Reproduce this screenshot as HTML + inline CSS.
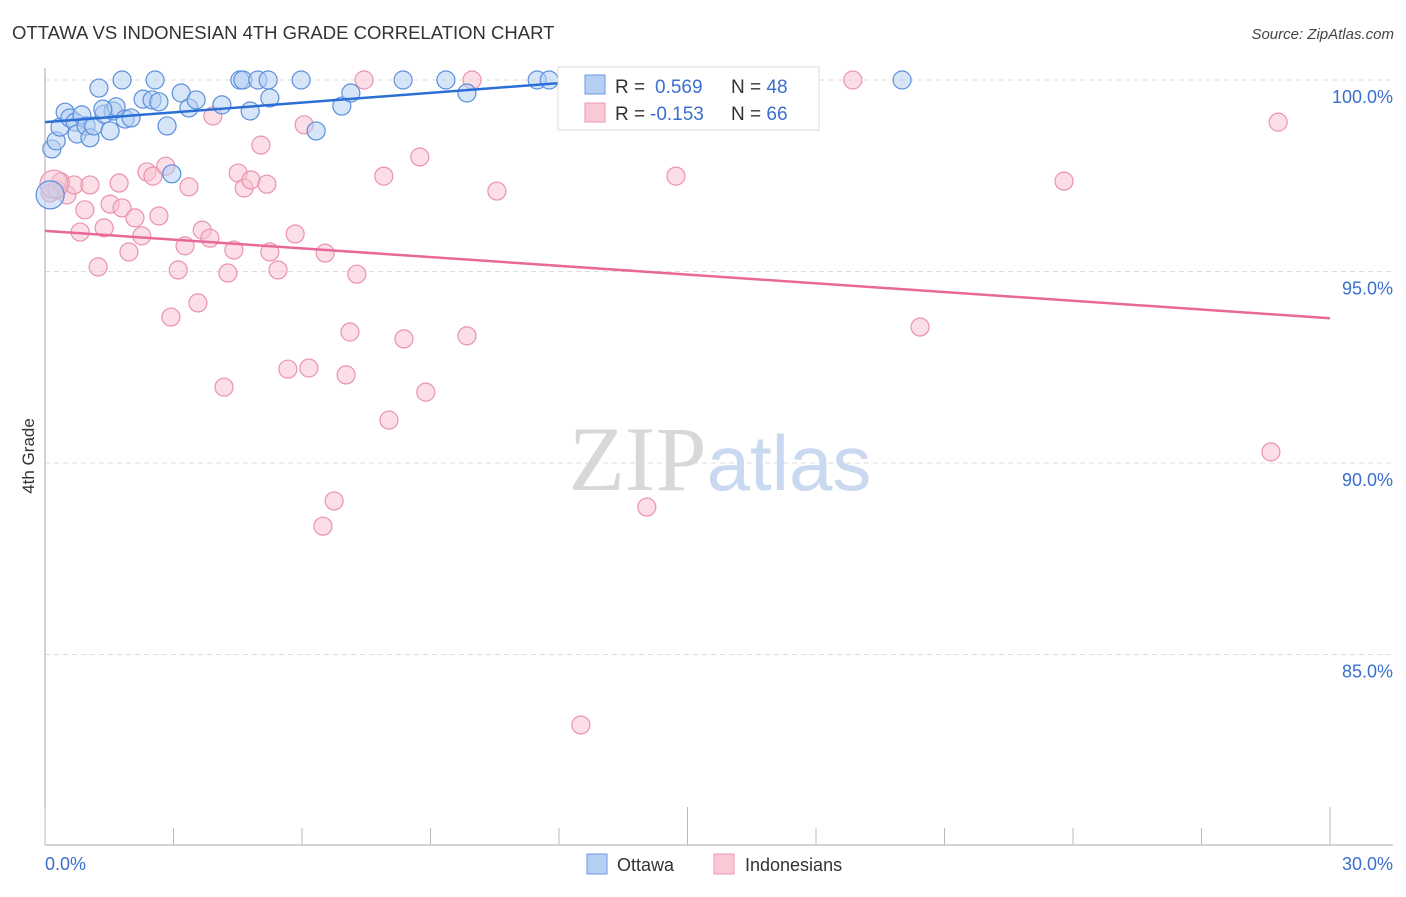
<!DOCTYPE html>
<html><head><meta charset="utf-8"><style>
body{margin:0;background:#fff;font-family:"Liberation Sans",sans-serif;}
svg text{font-family:"Liberation Sans",sans-serif;}
</style></head><body>
<svg id="chart" width="1406" height="892" viewBox="0 0 1406 892" xmlns="http://www.w3.org/2000/svg">
<text x="12" y="39" font-size="18.5" fill="#333">OTTAWA VS INDONESIAN 4TH GRADE CORRELATION CHART</text>
<text x="1394" y="39" font-size="15" font-style="italic" fill="#444" text-anchor="end">Source: ZipAtlas.com</text>
<g id="grid"></g>
<text x="720" y="490" font-size="92" text-anchor="middle" fill="#ddd" font-family="Liberation Serif"><tspan fill="#d8d8d8" font-family="Liberation Serif">ZIP</tspan><tspan fill="#c9d9f0" font-family="Liberation Sans" font-size="78">atlas</tspan></text>
<g id="axes"></g>
<g id="pts"></g>
<g id="lines"></g>
<text transform="translate(34,456) rotate(-90)" font-size="17" fill="#333" text-anchor="middle">4th Grade</text>
<g>
<rect x="558" y="67" width="261" height="63" fill="#fff" stroke="#ddd"/>
<rect x="585" y="75" width="20" height="19" fill="#b5cff3" stroke="#6a9ae0"/>
<rect x="585" y="103" width="20" height="19" fill="#fbc8d6" stroke="#ee9ab2"/>
<text x="615" y="93" font-size="19" fill="#333">R = <tspan fill="#3a6fd0" x="655">0.569</tspan><tspan fill="#333" x="731">N = </tspan><tspan fill="#3a6fd0">48</tspan></text>
<text x="615" y="120" font-size="19" fill="#333">R = <tspan fill="#3a6fd0" x="650">-0.153</tspan><tspan fill="#333" x="731">N = </tspan><tspan fill="#3a6fd0">66</tspan></text>
</g>
<g>
<rect x="587" y="854" width="20" height="20" fill="#b5cff3" stroke="#6a9ae0"/>
<text x="617" y="871" font-size="18" fill="#333">Ottawa</text>
<rect x="714" y="854" width="20" height="20" fill="#fbc8d6" stroke="#ee9ab2"/>
<text x="745" y="871" font-size="18" fill="#333">Indonesians</text>
</g>
</svg>
<script>
const yTicks=[100,95,90,85];
const yTickLabels=["100.0%","95.0%","90.0%","85.0%"];
const xTickLabels=["0.0%","30.0%"];
const ottawaX=[0.16,0.26,0.35,0.47,0.58,0.70,0.75,0.86,0.96,1.05,1.14,1.26,1.38,1.52,1.59,1.66,1.80,1.87,2.01,2.29,2.50,2.57,2.66,2.85,2.96,3.18,3.36,3.53,4.13,4.55,4.62,4.79,4.97,5.21,5.25,5.98,6.33,6.93,7.14,8.36,9.36,9.85,11.49,11.77,12.89,20.01,0.12,1.35];
const ottawaY=[98.20,98.41,98.77,99.16,99.01,98.90,98.59,99.09,98.80,98.49,98.80,99.79,99.11,98.67,99.19,99.30,100,98.98,99.01,99.50,99.48,100,99.43,98.80,97.55,99.66,99.27,99.48,99.35,100,100,99.19,100,100,99.53,100,98.67,99.32,99.66,100,100,99.66,100,100,100,100,97.0,99.24];
const indoX=[0.12,0.28,0.37,0.51,0.68,0.82,0.93,1.05,1.24,1.38,1.52,1.73,1.80,1.96,2.10,2.26,2.38,2.52,2.66,2.82,2.94,3.11,3.27,3.36,3.57,3.67,3.85,3.92,4.18,4.27,4.41,4.51,4.65,4.81,5.04,5.18,5.25,5.44,5.67,5.84,6.05,6.16,6.49,6.54,6.75,7.03,7.12,7.28,7.45,7.91,8.03,8.38,8.75,8.89,9.85,9.97,10.55,12.51,14.05,14.73,18.86,20.43,23.79,28.62,28.79,0.21];
const indoY=[97.05,97.13,97.34,97.00,97.26,96.03,96.61,97.26,95.12,96.14,96.76,97.31,96.66,95.51,96.40,95.93,97.60,97.49,96.45,97.75,93.81,95.04,95.67,97.21,94.18,96.08,95.87,99.06,91.98,94.96,95.56,97.57,97.18,97.39,98.30,97.28,95.51,95.04,92.45,95.98,98.83,92.48,88.35,95.48,89.01,92.30,93.42,94.93,100,97.49,91.12,93.24,97.99,91.85,93.32,100,97.10,83.16,88.85,97.49,100,93.55,97.36,90.29,98.90,97.28];
const ottawaTrendX=[0,12.96];
const ottawaTrendY=[98.90,100.0];
const indoTrendX=[0,30];
const indoTrendY=[96.06,93.78];

const NS="http://www.w3.org/2000/svg";
const X0=45,X1=1330,Y100=80,PXPER=38.3;
const sx=v=>X0+(v/30)*(X1-X0);
const sy=v=>Y100+(100-v)*PXPER;
function mk(tag,attrs,parent){const e=document.createElementNS(NS,tag);for(const k in attrs)e.setAttribute(k,attrs[k]);parent.appendChild(e);return e;}
const grid=document.getElementById('grid'),axes=document.getElementById('axes'),pts=document.getElementById('pts'),lines=document.getElementById('lines');
yTicks.forEach((t,i)=>{
  const l=mk('line',{x1:X0,x2:1393,y1:sy(t),y2:sy(t),stroke:'#ddd','stroke-dasharray':'5,4'},grid);
  
  
  const tx=mk('text',{x:1393,y:sy(t)+23,'font-size':18,fill:'#3a6fd0','text-anchor':'end'},axes);
  tx.textContent=yTickLabels[i];
  
  
});
const al=mk('line',{x1:X0,x2:X0,y1:68,y2:845,stroke:'#aaa'},axes);


const bl=mk('line',{x1:X0,x2:1393,y1:845,y2:845,stroke:'#aaa'},axes);


for(let i=0;i<=10;i++){
  const v=i*3;
  const tk=mk('line',{x1:sx(v),x2:sx(v),y1:(i%5===0)?807:828,y2:845,stroke:'#bbb'},axes);
  
  
}
[[0,'start'],[30,'end']].forEach((p,i)=>{
  const tx=mk('text',{x:i?1393:45,y:870,'font-size':18,fill:'#3a6fd0','text-anchor':p[1]},axes);
  tx.textContent=xTickLabels[i];
  
  
});
function drawPts(xs,ys,fill,stroke,name){
  xs.forEach((x,i)=>{
    const big=(i===xs.length-1&&name==='indonesians-point')||(name==='ottawa-point'&&i===46);
    const c=mk('circle',{cx:sx(x),cy:sy(ys[i]),r:big?14:9,fill:fill,'fill-opacity':0.55,stroke:stroke,'stroke-width':1.2},pts);
    
    
  });
}
drawPts(indoX,indoY,'#f8c3d2','#eb92ad','indonesians-point');
drawPts(ottawaX,ottawaY,'#b5cff3','#5a8fdc','ottawa-point');
const t1=mk('line',{x1:sx(ottawaTrendX[0]),y1:sy(ottawaTrendY[0]),x2:sx(ottawaTrendX[1]),y2:sy(ottawaTrendY[1]),stroke:'#2a6fd6','stroke-width':2.5},lines);


const t2=mk('line',{x1:sx(indoTrendX[0]),y1:sy(indoTrendY[0]),x2:sx(indoTrendX[1]),y2:sy(indoTrendY[1]),stroke:'#e8689a','stroke-width':2.5},lines);


</script>
</body></html>
